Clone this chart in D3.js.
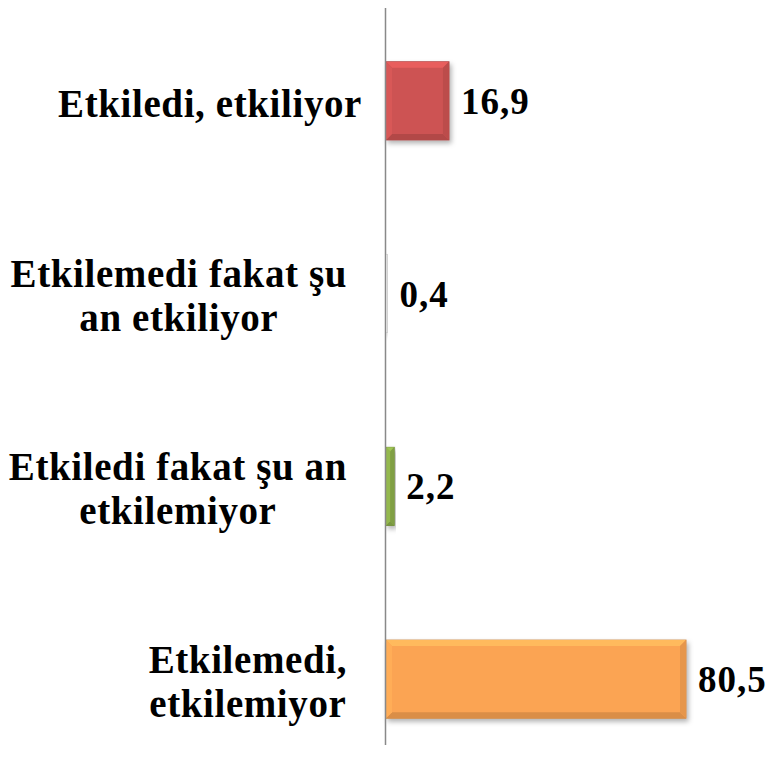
<!DOCTYPE html>
<html>
<head>
<meta charset="utf-8">
<script src="https://cdn.jsdelivr.net/npm/d3@7"></script>
<style>
  body { margin: 0; background: #fff; }
  text { font-family: "Liberation Serif", "DejaVu Serif", serif; font-weight: bold; fill: #000; }
</style>
</head>
<body>
<svg id="chart"></svg>
<script>
// categories top to bottom
const categories = [
  ["Etkiledi, etkiliyor"],
  ["Etkilemedi fakat şu", "an etkiliyor"],
  ["Etkiledi fakat şu an", "etkilemiyor"],
  ["Etkilemedi,", "etkilemiyor"]
]
const values = [16.9, 0.4, 2.2, 80.5]
const valueLabels = ["16,9", "0,4", "2,2", "80,5"]
const colors = ["#cd5352", "#f6f6f6", "#8cae4a", "#fba452"]

const width = 769, height = 773
const margin = {left: 386, right: 83}

const svg = d3.select('#chart').attr('width', width).attr('height', height)

const x = d3.scaleLinear().domain([0, 80.5]).range([margin.left, width - margin.right])
const y = d3.scaleBand().domain(d3.range(categories.length))
    .range([4, 776]).paddingInner(0.595).paddingOuter(0.3)

const defs = svg.append('defs')
const shadow = defs.append('filter').attr('id', 'shadow')
    .attr('x', '-10%').attr('y', '-10%').attr('width', '130%').attr('height', '140%')
shadow.append('feDropShadow').attr('dx', 2).attr('dy', 3).attr('stdDeviation', 2.5)
    .attr('flood-color', '#000').attr('flood-opacity', 0.3)

// bars
const bar = svg.selectAll('.bar').data(values).enter().append('g')
    .attr('class', 'bar')
    .attr('transform', (d, i) => 'translate(' + x(0) + ',' + y(i) + ')')

bar.append('rect')
    .attr('width', d => x(d) - x(0))
    .attr('height', y.bandwidth())
    .attr('fill', (d, i) => colors[i])
    .attr('stroke', (d, i) => d3.color(colors[i]).darker(0.6))
    .attr('stroke-width', 1)
    .attr('filter', 'url(#shadow)')

// bevel edges
const bev = 6
bar.each(function(d, i) {
  const w = x(d) - x(0), h = y.bandwidth(), b = Math.min(bev, w / 2)
  const g = d3.select(this), c = d3.color(colors[i])
  g.append('polygon')
      .attr('points', [[0, 0], [w, 0], [w - b, b], [b, b]].join(' '))
      .attr('fill', c.brighter(0.35))
  g.append('polygon')
      .attr('points', [[0, h], [w, h], [w - b, h - b], [b, h - b]].join(' '))
      .attr('fill', c.darker(0.4))
  g.append('polygon')
      .attr('points', [[w, 0], [w, h], [w - b, h - b], [w - b, b]].join(' '))
      .attr('fill', c.darker(0.25))
  g.append('polygon')
      .attr('points', [[0, 0], [0, h], [b, h - b], [b, b]].join(' '))
      .attr('fill', c.brighter(0.15))
})

// value labels
bar.append('text')
    .attr('x', d => x(d) - x(0) + 12)
    .attr('y', y.bandwidth() / 2)
    .attr('dy', '0.35em')
    .style('font-size', '37px')
    .style('letter-spacing', '1px')
    .text((d, i) => valueLabels[i])

// axis line
svg.append('line')
    .attr('x1', x(0) - 0.5).attr('x2', x(0) - 0.5)
    .attr('y1', 8).attr('y2', 745)
    .attr('stroke', '#898989').attr('stroke-width', 1.5)

// category labels, lines centred within the block, block right-aligned
const lineH = 44
svg.selectAll('.cat').data(categories).enter().append('text')
    .attr('class', 'cat')
    .attr('text-anchor', 'middle')
    .style('font-size', '39px')
    .style('letter-spacing', '0.6px')
    .each(function(lines, i) {
      const t = d3.select(this)
      const cy = y(i) + y.bandwidth() / 2 + 2
      const spans = lines.map((l, k) => t.append('tspan')
          .attr('y', cy + (k - (lines.length - 1) / 2) * lineH)
          .attr('dy', '0.35em')
          .text(l))
      const maxW = d3.max(spans, s => s.node().getComputedTextLength())
      const right = lines.length > 1 ? 347 : 362
      spans.forEach(s => s.attr('x', right - maxW / 2))
    })
</script>
</body>
</html>
